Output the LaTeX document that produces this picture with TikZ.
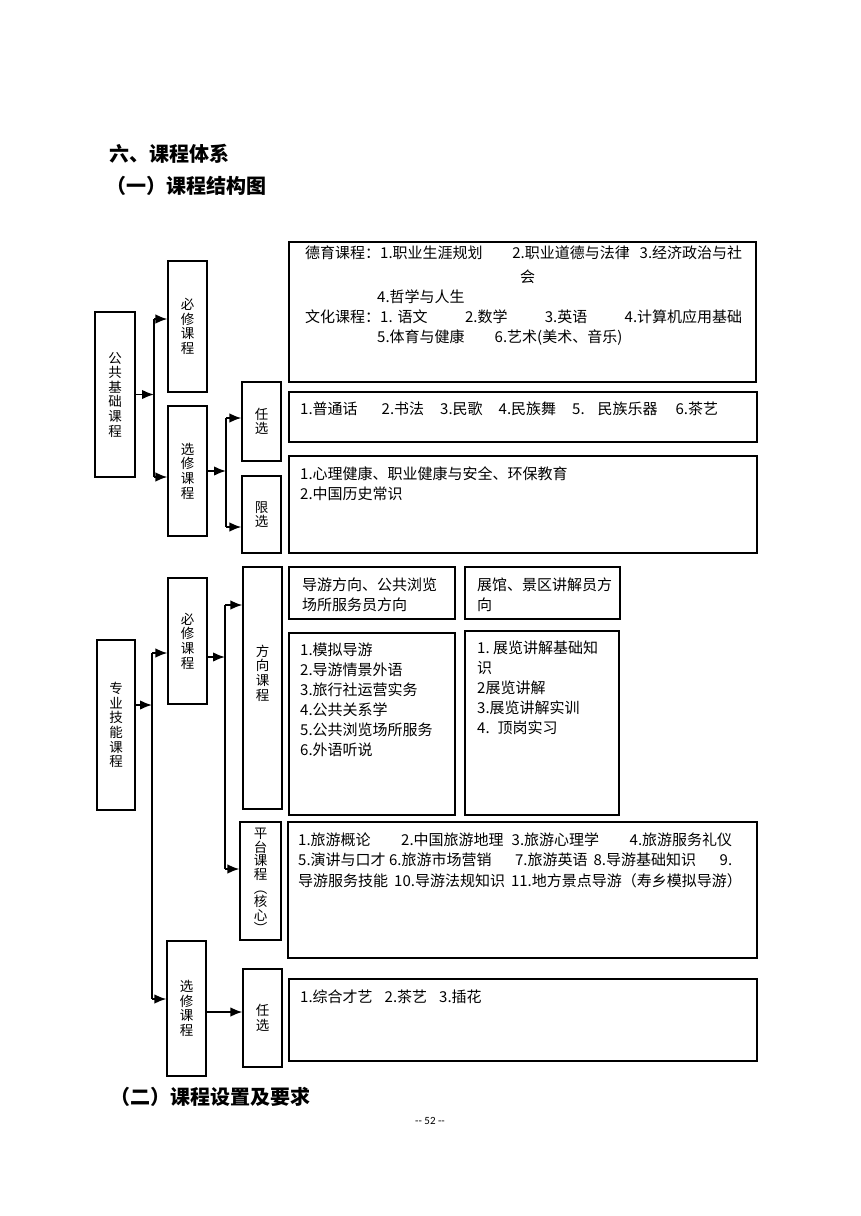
\documentclass[tikz,border=0pt]{standalone}
\usepackage{fontspec}
\usepackage{tikz}
\usetikzlibrary{arrows.meta}
\newfontfamily\cjk{Noto Sans CJK SC}
\newfontfamily\pagefont{Carlito}

\begin{document}
\begin{tikzpicture}[x=1pt,y=-1pt,
  cbox/.style={draw,line width=1.2pt,inner sep=0pt},
  vlab/.style={align=center,inner sep=0pt,font=\cjk\fontsize{13.5}{14.6}\selectfont},
  txt/.style={anchor=north west,align=left,inner sep=0pt,font=\cjk\fontsize{15}{20}\selectfont},
  heading/.style={anchor=west,inner sep=0pt,font=\cjk\bfseries\fontsize{20}{24}\selectfont},
  link/.style={line width=1.7pt},
  arr/.style={link,-{Latex[length=12pt,width=9.5pt]}}]
\fill[white] (0,0) rectangle (860,1216);
\useasboundingbox (0,0) rectangle (860,1216);

\node[heading] (h1) at (109,154) {六、课程体系};
\node[heading] (h2) at (106,186) {（一）课程结构图};
\node[heading] (h3) at (110,1097) {（二）课程设置及要求};
\node[inner sep=0pt,font=\pagefont\fontsize{11}{13}\selectfont] (pg) at (430,1121) {-- 52 --};

% public foundation courses
\node[cbox,vlab,minimum width=40pt,minimum height=165pt] (gj) at (115,394.5) {公\\共\\基\\础\\课\\程};
\node[cbox,vlab,minimum width=39pt,minimum height=131pt] (gbx) at (187.5,326.5) {必\\修\\课\\程};
\node[cbox,vlab,minimum width=39pt,minimum height=130pt] (gxx) at (187.5,471) {选\\修\\课\\程};
\node[cbox,vlab,minimum width=39pt,minimum height=79pt] (grx) at (261.5,421.5) {任\\选};
\node[cbox,vlab,minimum width=39pt,minimum height=77pt] (glx) at (261.5,514.5) {限\\选};
\node[cbox,minimum width=467pt,minimum height=140pt] (gdy) at (522.5,312) {};
\node[cbox,minimum width=468pt,minimum height=50pt] (grxc) at (523,417) {};
\node[cbox,minimum width=468pt,minimum height=97pt] (glxc) at (523,504.5) {};

\node[txt,text width=437pt] (gdyt) at (305,245.5) {%
  德育课程：1.职业生涯规划\hspace{0pt plus 3fill}2.职业道德与法律\hspace{0pt plus 1fill}3.经济政治与社\\[4pt]
  \hspace*{215pt}会\\
  \hspace*{72pt}4.哲学与人生\\
  文化课程：1.\ 语文\hfill 2.数学\hfill 3.英语\hfill 4.计算机应用基础\\
  \hspace*{72pt}5.体育与健康\hspace{30pt}6.艺术(美术、音乐)};
\node[txt] (grxt) at (300,401.5) {1.普通话\hspace{24pt}2.书法\hspace{16pt}3.民歌\hspace{16pt}4.民族舞\hspace{16pt}5.\hspace{13pt}民族乐器\hspace{18pt}6.茶艺};
\node[txt] (glxt) at (300,466.5) {1.心理健康、职业健康与安全、环保教育\\2.中国历史常识};

\coordinate (ja) at (154,319);
\coordinate (jb) at (154,477);
\draw[link] (ja) -- (jb);
\draw[arr] (gj.east) -- (gj.east -| ja);
\draw[arr] (ja) -- (ja -| gbx.west);
\draw[arr] (jb) -- (jb -| gxx.west);
\coordinate (jc) at (226,418);
\coordinate (jd) at (226,527);
\draw[link] (jc) -- (jd);
\draw[arr] (gxx.east) -- (gxx.east -| jc);
\draw[arr] (jc) -- (jc -| grx.west);
\draw[arr] (jd) -- (jd -| glx.west);

% professional skill courses
\node[cbox,vlab,minimum width=38pt,minimum height=170pt] (zj) at (116,725) {专\\业\\技\\能\\课\\程};
\node[cbox,vlab,minimum width=39pt,minimum height=126pt] (zbx) at (187.5,641) {必\\修\\课\\程};
\node[cbox,minimum width=39pt,minimum height=242pt] (fx) at (262.5,688) {};
\node[vlab] (fxt) at (262.5,673) {方\\向\\课\\程};
\node[cbox,align=center,inner sep=0pt,font=\cjk\fontsize{13.5}{13.6}\selectfont,minimum width=41pt,minimum height=118pt] (pf) at (260.5,881) {平\\台\\课\\程\\︵\\核\\心\\︶};
\node[cbox,vlab,minimum width=39pt,minimum height=135pt] (zxx) at (186.5,1008.5) {选\\修\\课\\程};
\node[cbox,vlab,minimum width=39pt,minimum height=98pt] (zrx) at (262.5,1018) {任\\选};

\node[cbox,minimum width=166pt,minimum height=52pt] (fxh1) at (372,593) {};
\node[cbox,minimum width=155pt,minimum height=52pt] (fxh2) at (542.5,593) {};
\node[cbox,minimum width=166pt,minimum height=182pt] (fxl1) at (372,724) {};
\node[cbox,minimum width=154pt,minimum height=184pt] (fxl2) at (542,723) {};
\node[cbox,minimum width=469pt,minimum height=136pt] (pfc) at (522.5,890) {};
\node[cbox,minimum width=468pt,minimum height=82pt] (zrxc) at (523,1020) {};

\node[txt] (fxh1t) at (302,577.5) {导游方向、公共浏览\\场所服务员方向};
\node[txt] (fxh2t) at (477,577.5) {展馆、景区讲解员方\\向};
\node[txt] (fxl1t) at (300,642.5) {1.模拟导游\\2.导游情景外语\\3.旅行社运营实务\\4.公共关系学\\5.公共浏览场所服务\\6.外语听说};
\node[txt] (fxl2t) at (477,640.5) {1.\ 展览讲解基础知\\识\\2展览讲解\\3.展览讲解实训\\4.\hspace{8pt}顶岗实习};
\node[txt,font=\cjk\fontsize{15}{20.5}\selectfont] (pfct) at (298,832.5) {%
  \makebox[434pt][l]{1.旅游概论\hfill 2.中国旅游地理\hspace{8pt}3.旅游心理学\hfill 4.旅游服务礼仪}\\
  \makebox[434pt][l]{5.演讲与口才 6.旅游市场营销\hfill 7.旅游英语\hspace{6pt}8.导游基础知识\hfill 9.}\\
  导游服务技能\hspace{6pt}10.导游法规知识\hspace{6pt}11.地方景点导游（寿乡模拟导游）};
\node[txt] (zrxt) at (300,989.5) {1.综合才艺\hspace{12pt}2.茶艺\hspace{12pt}3.插花};

\coordinate (je) at (152,653);
\coordinate (jf) at (152,999);
\draw[link] (je) -- (jf);
\draw[arr] ([yshift=20pt]zj.east) -- ([yshift=20pt]zj.east -| je);
\draw[arr] (je) -- (je -| zbx.west);
\draw[arr] (jf) -- (jf -| zxx.west);
\coordinate (jg) at (225,605);
\coordinate (jh) at (225,869);
\draw[link] (jg) -- (jh);
\draw[arr] ([yshift=-16pt]zbx.east) -- ([yshift=-16pt]zbx.east -| jg);
\draw[arr] (jg) -- (jg -| fx.west);
\draw[arr] (jh) -- (jh -| pf.west);
\draw[arr] ([yshift=-3.5pt]zxx.east) -- ([yshift=-3.5pt]zxx.east -| zrx.west);
\end{tikzpicture}
\end{document}
